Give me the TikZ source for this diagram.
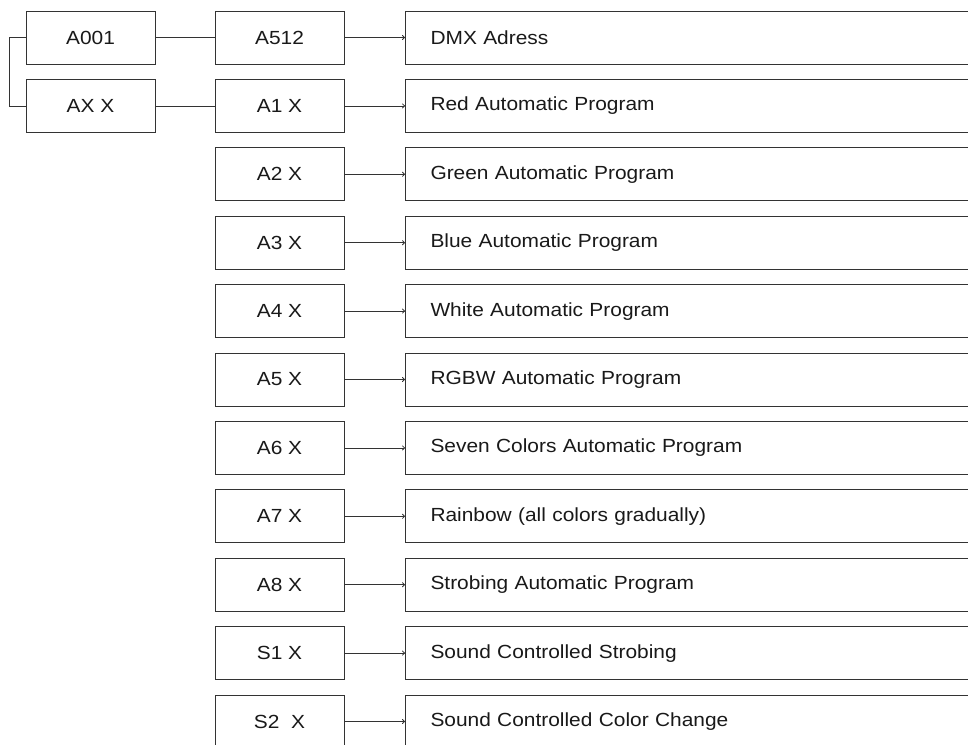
\documentclass[tikz,border=0pt]{standalone}
\usepackage{fontspec}
\setmainfont[FakeStretch=1.1]{Liberation Sans}
\usetikzlibrary{arrows.meta}
\begin{document}
\begin{tikzpicture}[x=1pt,y=-1pt,
  txt/.style={font=\fontsize{19}{22}\selectfont, text=black!90},
  box/.style={txt, draw=black!80, line width=1pt, minimum width=129pt, minimum height=53pt, inner sep=0pt},
  wide/.style={txt, draw=black!80, line width=1pt, minimum width=580pt, minimum height=53pt, anchor=west, text width=530pt, inner xsep=25pt, inner ysep=0pt, align=left},
  link/.style={draw=black!80, line width=0.8pt},
  arr/.style={link, -{To[length=3pt,width=5pt]}}]
\useasboundingbox (0,0) rectangle (968,744);
\clip (0,0) rectangle (968,744);
\node[box] (a001) at (90.5,37.5) {A001};
\node[box] (axx) at (90.5,105.9) {AX X};
\coordinate (j1) at (9,37.5);
\coordinate (j2) at (9,105.9);
\draw[link] (a001.west) -- (j1) -- (j2) -- (axx.west);
\foreach \lab/\desc [count=\i from 0] in {
  A512/DMX Adress,
  A1 X/Red Automatic Program,
  A2 X/Green Automatic Program,
  A3 X/Blue Automatic Program,
  A4 X/White Automatic Program,
  A5 X/RGBW Automatic Program,
  A6 X/Seven Colors Automatic Program,
  A7 X/Rainbow (all colors gradually),
  A8 X/Strobing Automatic Program,
  S1 X/Sound Controlled Strobing,
  S2\ \ X/Sound Controlled Color Change} {
  \node[box] (m\i) at (279.5,37.5+68.4*\i) {\lab};
  \node[wide] (r\i) at (405,37.5+68.4*\i) {\desc};
  \draw[arr] (m\i.east) -- (r\i.west);
}
\draw[link] (a001.east) -- (m0.west);
\draw[link] (axx.east) -- (m1.west);
\end{tikzpicture}
\end{document}
